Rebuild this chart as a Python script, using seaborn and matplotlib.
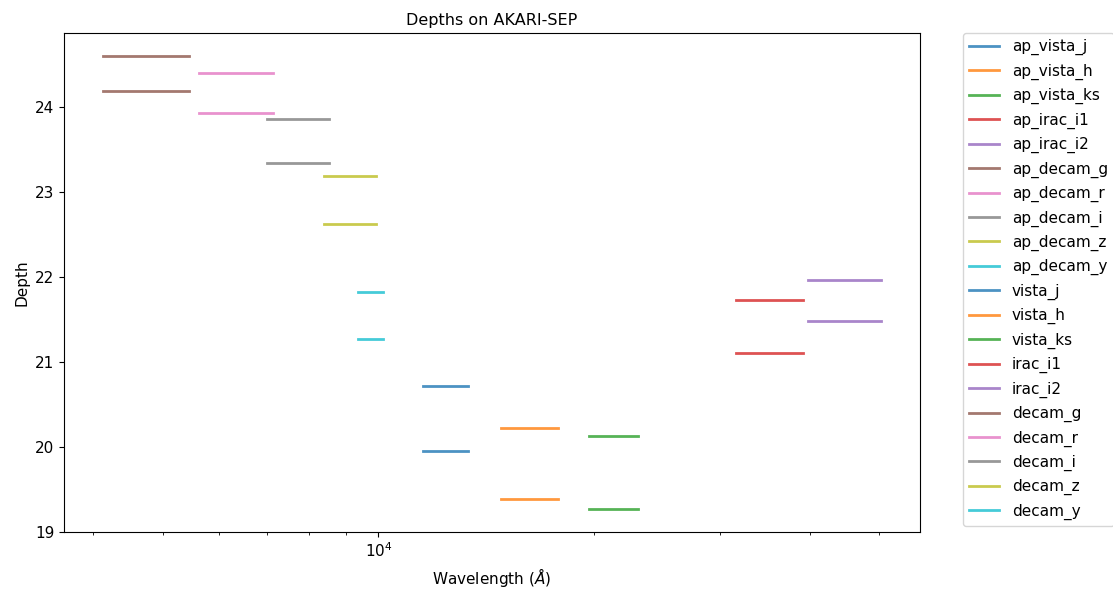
import numpy as np
import pandas as pd
import seaborn as sns
import matplotlib
matplotlib.use("Agg")
from matplotlib import pyplot as plt
from matplotlib.ticker import NullFormatter

## Données
bands = ['vista_j', 'vista_h', 'vista_ks', 'irac_i1', 'irac_i2',
         'decam_g', 'decam_r', 'decam_i', 'decam_z', 'decam_y']
lambda_min = [11530, 14820, 19700, 31560, 39840, 4125, 5616, 6998, 8385, 9374]
lambda_max = [13355, 17835, 23040, 39200, 50330, 5437, 7128, 8538, 9936, 10137]
ap_depth = [20.72, 20.22, 20.13, 21.73, 21.96, 24.60, 24.40, 23.86, 23.18, 21.82]
depth = [19.95, 19.39, 19.27, 21.10, 21.48, 24.18, 23.93, 23.34, 22.62, 21.27]

## Table longue : deux points par segment horizontal
rows = []
for prefix, values in [('ap_', ap_depth), ('', depth)]:
    for b, lmin, lmax, d in zip(bands, lambda_min, lambda_max, values):
        rows.append({'label': prefix + b, 'wavelength': lmin, 'depth': d})
        rows.append({'label': prefix + b, 'wavelength': lmax, 'depth': d})
df = pd.DataFrame(rows)
order = ['ap_' + b for b in bands] + bands

plt.rcParams['font.size'] = 11
fig, ax = plt.subplots(figsize=(11.13, 5.96), dpi=100)
fig.subplots_adjust(left=0.0575, right=0.8266, bottom=0.1074, top=0.9446)

sns.lineplot(data=df, x='wavelength', y='depth', hue='label', hue_order=order,
             palette=sns.color_palette('tab10', 20), estimator=None,
             linewidth=2, alpha=0.8, ax=ax)

ax.set_xscale('log')
ax.xaxis.set_minor_formatter(NullFormatter())
ax.set_ylim(bottom=19)
ax.set_xlabel(r'Wavelength ($\AA$)')
ax.set_ylabel('Depth')
ax.set_title('Depths on AKARI-SEP', fontsize=11.5)

sns.move_legend(ax, 'upper left', bbox_to_anchor=(1.05, 1), borderaxespad=0.,
                title=None, labelspacing=0.54)

fig.savefig('out.png', dpi=100)
